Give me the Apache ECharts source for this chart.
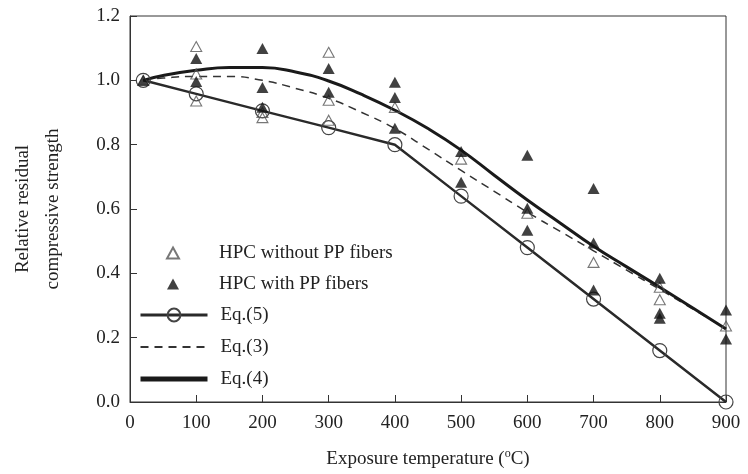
<!DOCTYPE html>
<html>
<head>
<meta charset="utf-8">
<script src="https://cdn.jsdelivr.net/npm/echarts@6/dist/echarts.min.js"></script>
<style>html,body{margin:0;padding:0;background:#fff}#c{width:748px;height:474px}</style>
</head>
<body>
<div id="c"></div>
<script>
// ---- data ----
const xTicks = [0, 100, 200, 300, 400, 500, 600, 700, 800, 900];
const yTicks = [0.0, 0.2, 0.4, 0.6, 0.8, 1.0, 1.2];

// HPC without PP fibers (open triangles)
const noPPTemp = [20, 100, 100, 100, 200, 200, 300, 300, 300, 400, 500, 600, 700, 800, 800, 900];
const noPPVal  = [1.00, 1.105, 1.02, 0.936, 0.90, 0.884, 1.087, 0.938, 0.876, 0.916, 0.755, 0.587, 0.434, 0.357, 0.318, 0.236];

// HPC with PP fibers (filled triangles)
const withPPTemp = [20, 100, 100, 200, 200, 200, 300, 300, 400, 400, 400, 500, 500, 600, 600, 600, 700, 700, 700, 800, 800, 800, 900, 900];
const withPPVal  = [1.00, 1.068, 0.996, 1.099, 0.978, 0.916, 1.037, 0.963, 0.994, 0.947, 0.851, 0.779, 0.683, 0.767, 0.602, 0.534, 0.664, 0.494, 0.348, 0.385, 0.276, 0.260, 0.286, 0.196];

// Eq.(5) piecewise line with circles
const eq5Temp = [20, 100, 200, 300, 400, 500, 600, 700, 800, 900];
const eq5Val  = [1.00, 0.958, 0.905, 0.853, 0.800, 0.640, 0.480, 0.320, 0.160, 0.000];

// Eq.(3) dashed curve
const eq3Temp = [20, 50, 100, 150, 200, 250, 300, 350, 400, 450, 500, 550, 600, 650, 700, 750, 800, 850, 900];
const eq3Val  = [1.00, 1.007, 1.012, 1.012, 1.000, 0.975, 0.944, 0.900, 0.850, 0.786, 0.720, 0.655, 0.590, 0.530, 0.470, 0.410, 0.350, 0.289, 0.228];

// Eq.(4) thick curve
const eq4Temp = [20, 50, 100, 150, 200, 250, 300, 350, 400, 450, 500, 550, 600, 650, 700, 750, 800, 850, 900];
const eq4Val  = [1.00, 1.015, 1.031, 1.040, 1.040, 1.026, 0.998, 0.956, 0.907, 0.850, 0.783, 0.705, 0.628, 0.556, 0.484, 0.420, 0.357, 0.292, 0.227];

const names = ['HPC without PP fibers', 'HPC with PP fibers', 'Eq.(5)', 'Eq.(3)', 'Eq.(4)'];

function pairs(xs, ys) { return xs.map((x, i) => [x, ys[i]]); }

const serif = 'Liberation Serif';
const ink = '#222';
const noSym = { color: 'rgba(0,0,0,0)', borderWidth: 0, borderColor: 'rgba(0,0,0,0)' };

const chart = echarts.init(document.getElementById('c'), null, { renderer: 'canvas' });
chart.setOption({
  animation: false,
  backgroundColor: '#fff',
  grid: { left: 120, right: 22, top: 16, bottom: 72, show: true, borderColor: '#333', borderWidth: 1 },
  legend: [
    {
      data: [names[0], names[1]], orient: 'vertical', left: 161, top: 238,
      itemWidth: 12, itemHeight: 11, itemGap: 11,
      textStyle: { fontFamily: serif, fontSize: 19, color: ink, lineHeight: 20, padding: [0, 0, 0, 35] }
    },
    {
      data: [
        { name: names[2], lineStyle: { width: 3 } },
        { name: names[3], itemStyle: noSym },
        { name: names[4], itemStyle: noSym, lineStyle: { width: 5 } }
      ],
      orient: 'vertical', left: 133, top: 300,
      itemWidth: 67, itemHeight: 16, itemGap: 12,
      textStyle: { fontFamily: serif, fontSize: 19, color: ink, lineHeight: 20, padding: [0, 0, 0, 8] }
    }
  ],
  xAxis: {
    type: 'value', min: 0, max: 900, interval: 100,
    name: '{t|Exposure temperature (}{s|o}{t|C)}',
    nameLocation: 'middle', nameGap: 46,
    nameTextStyle: {
      rich: {
        t: { fontFamily: serif, fontSize: 19, color: ink },
        s: { fontFamily: serif, fontSize: 12, color: ink, padding: [0, 0, 10, 0] }
      }
    },
    axisLine: { lineStyle: { color: '#333', width: 1 } },
    axisTick: { inside: true, length: 7, lineStyle: { color: '#333' } },
    axisLabel: { fontFamily: serif, fontSize: 19, color: ink, margin: 12, formatter: v => String(v) },
    splitLine: { show: false }
  },
  yAxis: {
    type: 'value', min: 0, max: 1.2, interval: 0.2,
    name: 'Relative residual\ncompressive strength',
    nameLocation: 'middle', nameGap: 62, nameRotate: 90,
    nameTextStyle: { fontFamily: serif, fontSize: 19, color: ink, lineHeight: 30 },
    axisLine: { lineStyle: { color: '#333', width: 1 } },
    axisTick: { inside: true, length: 7, lineStyle: { color: '#333' } },
    axisLabel: { fontFamily: serif, fontSize: 19, color: ink, margin: 10, formatter: v => v.toFixed(1) },
    splitLine: { show: false }
  },
  series: [
    {
      name: names[2], type: 'line', data: pairs(eq5Temp, eq5Val),
      symbol: 'circle', symbolSize: 14, showSymbol: true, z: 3,
      lineStyle: { color: '#2a2a2a', width: 2.5 },
      itemStyle: { color: 'rgba(255,255,255,0)', borderColor: '#444', borderWidth: 1.2 }
    },
    {
      name: names[3], type: 'line', data: pairs(eq3Temp, eq3Val), smooth: true,
      symbol: 'none', z: 2,
      lineStyle: { color: '#333', width: 1.5, type: [8, 6] },
      itemStyle: { color: '#333' }
    },
    {
      name: names[4], type: 'line', data: pairs(eq4Temp, eq4Val), smooth: true,
      symbol: 'none', z: 2,
      lineStyle: { color: '#1a1a1a', width: 3 },
      itemStyle: { color: '#1a1a1a' }
    },
    {
      name: names[0], type: 'scatter', data: pairs(noPPTemp, noPPVal),
      symbol: 'triangle', symbolSize: [11, 10], z: 4,
      itemStyle: { color: 'rgba(255,255,255,0)', borderColor: '#555', borderWidth: 1.1 }
    },
    {
      name: names[1], type: 'scatter', data: pairs(withPPTemp, withPPVal),
      symbol: 'triangle', symbolSize: [12, 11], z: 5,
      itemStyle: { color: '#111' }
    }
  ]
});
</script>
</body>
</html>
